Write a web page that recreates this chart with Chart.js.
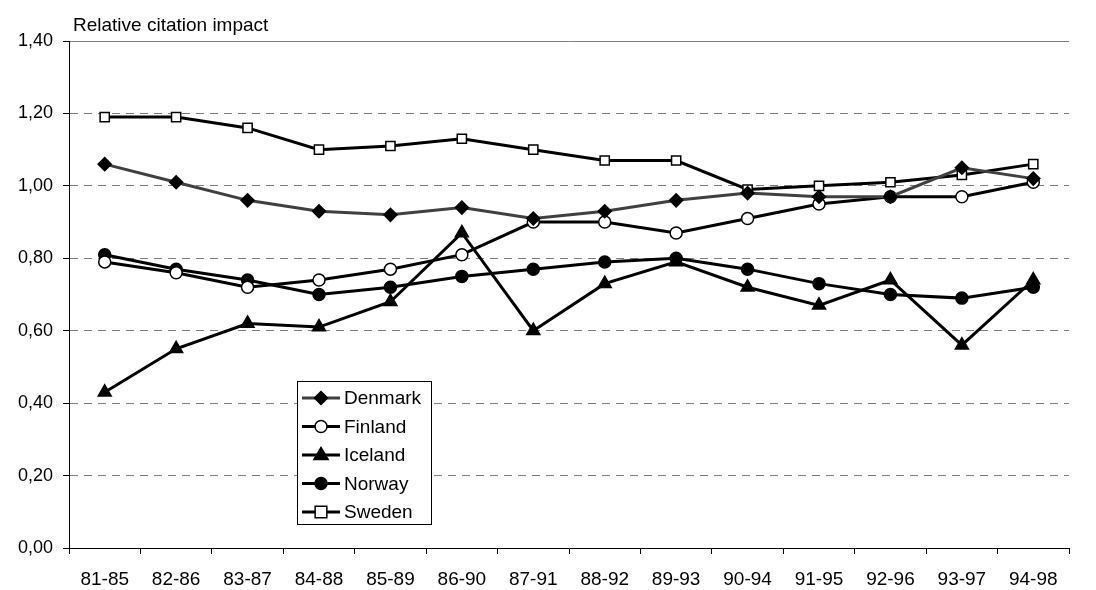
<!DOCTYPE html>
<html>
<head>
<meta charset="utf-8">
<script src="https://cdn.jsdelivr.net/npm/chart.js@4/dist/chart.umd.min.js"></script>
<style>
  html, body { margin: 0; padding: 0; background: #fff; }
  #wrap { width: 1096px; height: 590px; }
</style>
</head>
<body>
<div id="wrap"><canvas id="chart" width="1096" height="590"></canvas></div>
<script>
// --- data ---
const periods = ['81-85', '82-86', '83-87', '84-88', '85-89', '86-90', '87-91',
                 '88-92', '89-93', '90-94', '91-95', '92-96', '93-97', '94-98'];
const denmark = [1.06, 1.01, 0.96, 0.93, 0.92, 0.94, 0.91, 0.93, 0.96, 0.98, 0.97, 0.97, 1.05, 1.02];
const finland = [0.79, 0.76, 0.72, 0.74, 0.77, 0.81, 0.90, 0.90, 0.87, 0.91, 0.95, 0.97, 0.97, 1.01];
const iceland = [0.43, 0.55, 0.62, 0.61, 0.68, 0.87, 0.60, 0.73, 0.79, 0.72, 0.67, 0.74, 0.56, 0.74];
const norway  = [0.81, 0.77, 0.74, 0.70, 0.72, 0.75, 0.77, 0.79, 0.80, 0.77, 0.73, 0.70, 0.69, 0.72];
const sweden  = [1.19, 1.19, 1.16, 1.10, 1.11, 1.13, 1.10, 1.07, 1.07, 0.99, 1.00, 1.01, 1.03, 1.06];

const yTitle = 'Relative citation impact';

const FONT = 'Arial, "Liberation Sans", sans-serif';
Chart.defaults.font.family = FONT;
Chart.defaults.color = '#000';

// marker style per series
const series = [
  { label: 'Denmark', data: denmark, line: '#404040', style: 'rectRot', fill: '#000', r: 6.5 },
  { label: 'Finland', data: finland, line: '#000', style: 'circle', fill: '#fff', r: 6 },
  { label: 'Iceland', data: iceland, line: '#000', style: 'triangle', fill: '#000', r: 7.5 },
  { label: 'Norway', data: norway, line: '#000', style: 'circle', fill: '#000', r: 6 },
  { label: 'Sweden', data: sweden, line: '#000', style: 'rect', fill: '#fff', r: 6.5 }
];

function drawMarker(ctx, s, x, y) {
  ctx.save();
  ctx.fillStyle = s.fill;
  ctx.strokeStyle = '#000';
  ctx.lineWidth = 1.5;
  ctx.beginPath();
  const r = s.r;
  if (s.style === 'circle') {
    ctx.arc(x, y, r, 0, Math.PI * 2);
  } else if (s.style === 'rect') {
    const h = r * 0.9;
    ctx.rect(x - h, y - h, h * 2, h * 2);
  } else if (s.style === 'rectRot') {
    ctx.moveTo(x, y - r); ctx.lineTo(x + r, y); ctx.lineTo(x, y + r); ctx.lineTo(x - r, y);
    ctx.closePath();
  } else if (s.style === 'triangle') {
    ctx.moveTo(x, y - r); ctx.lineTo(x + r * 0.95, y + r * 0.6); ctx.lineTo(x - r * 0.95, y + r * 0.6);
    ctx.closePath();
  }
  ctx.fill();
  ctx.stroke();
  ctx.restore();
}

// y title above the axis and the boxed legend inside the plot
const extras = {
  id: 'extras',
  afterDraw(chart) {
    const ctx = chart.ctx;
    const area = chart.chartArea;
    ctx.save();
    ctx.font = '19px ' + FONT;
    ctx.fillStyle = '#000';
    ctx.textBaseline = 'alphabetic';
    ctx.fillText(yTitle, area.left + 4, 31);

    // legend box
    const bx = 297, by = 381, bw = 134, bh = 143;
    ctx.fillStyle = '#fff';
    ctx.fillRect(bx, by, bw, bh);
    ctx.strokeStyle = '#000';
    ctx.lineWidth = 1;
    ctx.strokeRect(bx + 0.5, by + 0.5, bw, bh);
    series.forEach((s, i) => {
      const y = 398 + i * 28.5;
      ctx.strokeStyle = s.line;
      ctx.lineWidth = 3;
      ctx.beginPath();
      ctx.moveTo(302, y);
      ctx.lineTo(340, y);
      ctx.stroke();
      drawMarker(ctx, s, 321, y);
      ctx.fillStyle = '#000';
      ctx.font = '19px ' + FONT;
      ctx.textBaseline = 'middle';
      ctx.fillText(s.label, 344, y + 1);
    });
    ctx.restore();
  }
};

new Chart(document.getElementById('chart'), {
  type: 'line',
  data: {
    labels: periods,
    datasets: series.map(s => ({
      label: s.label,
      data: s.data,
      borderColor: s.line,
      borderWidth: 3,
      pointStyle: s.style,
      pointRadius: s.r,
      pointBackgroundColor: s.fill,
      pointBorderColor: '#000',
      pointBorderWidth: 1.5,
      tension: 0,
      fill: false
    }))
  },
  options: {
    responsive: false,
    animation: false,
    layout: { padding: { top: 41, right: 27, bottom: 0, left: 0 } },
    plugins: {
      legend: { display: false },
      tooltip: { enabled: false }
    },
    scales: {
      x: {
        offset: true,
        afterFit(scale) { scale.height = 42; },
        grid: {
          offset: true,
          drawOnChartArea: false,
          color: '#000',
          tickColor: '#000',
          tickLength: 6
        },
        border: { color: '#000', width: 1 },
        ticks: {
          color: '#000',
          font: { size: 19 },
          padding: 14,
          maxRotation: 0,
          autoSkip: false
        }
      },
      y: {
        min: 0,
        max: 1.4,
        afterFit(scale) { scale.width = 69; },
        grid: {
          color: '#808080',
          lineWidth: 1,
          tickColor: '#000',
          tickLength: 6
        },
        border: {
          color: '#000',
          width: 1,
          dash: ctx => (ctx.type === 'tick' && ctx.tick && ctx.tick.value < 1.39) ? [8, 6] : []
        },
        ticks: {
          stepSize: 0.2,
          color: '#000',
          font: { size: 18 },
          padding: 10,
          callback: v => v.toFixed(2).replace('.', ',')
        }
      }
    }
  },
  plugins: [extras]
});
</script>
</body>
</html>
